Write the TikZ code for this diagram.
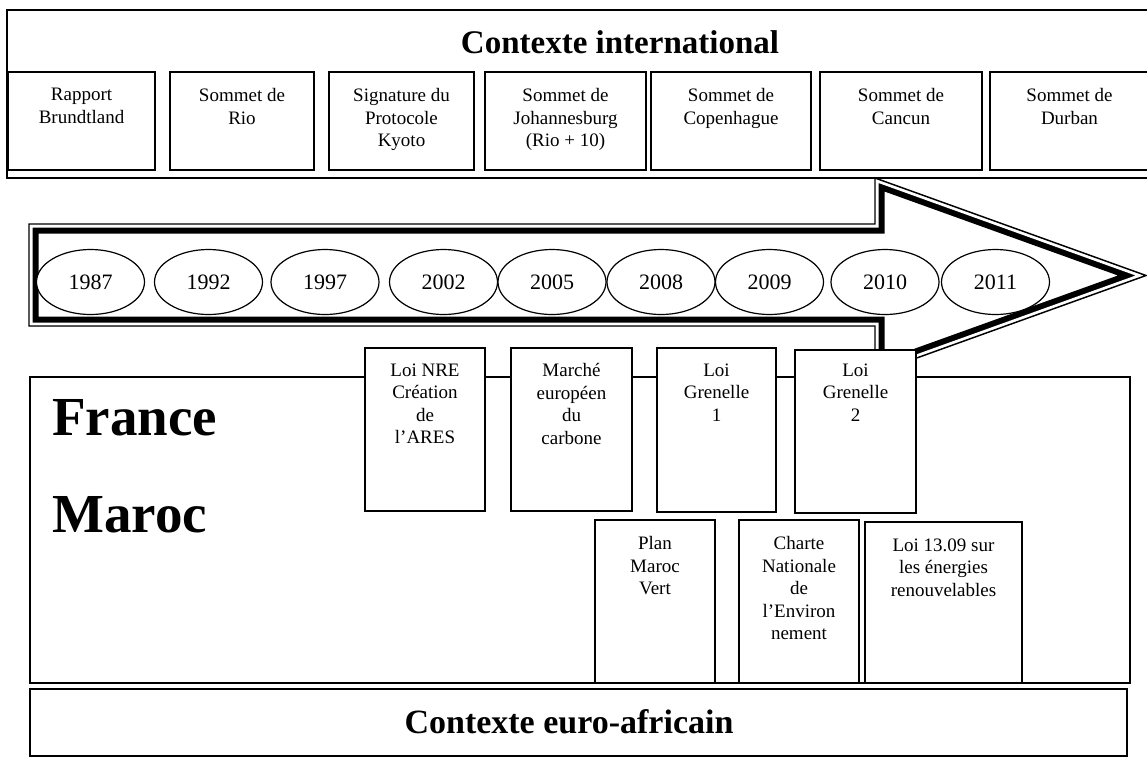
\documentclass[tikz,border=0pt]{standalone}
\usepackage{fontspec}
\setmainfont{Liberation Serif}
\usetikzlibrary{shapes.geometric,fit,calc}
\tikzset{
  evframe/.style={draw, line width=1.1pt, fill=white, inner sep=0pt},
  boxtxt/.style={font=\fontsize{14.25}{16.9}\selectfont, align=center, inner sep=0pt, anchor=north},
  yr/.style={ellipse, draw, line width=0.9pt, fill=white, minimum width=81pt, minimum height=48.75pt, inner sep=0pt, font=\fontsize{16.5}{18}\selectfont},
  bigtitle/.style={font=\fontsize{24.75}{28}\selectfont\bfseries, anchor=base, inner sep=0pt},
  country/.style={font=\fontsize{41.25}{44}\selectfont\bfseries, anchor=base west, inner sep=0pt},
  arrowshape/.style={insert path={(29,224) -- (875,224) -- (875,178) -- (1146,275.5) -- (875,373) -- (875,326) -- (29,326) -- cycle}}
}
\newcommand{\evbox}[7]{%
  \node[evframe, fit={(#2,#3)(#4,#5)}] (#1) {};
  \node[boxtxt] (#1t) at ($(#1.north)+(0,#6)$) {#7};
}
\begin{document}
\begin{tikzpicture}[x=0.75pt,y=-0.75pt]
\useasboundingbox (0,0) rectangle (1147,758);
% top international frame
\node[evframe, fit={(7,10)(1148,178)}] (intl) {};
\node[bigtitle] (intltitle) at (620,53) {Contexte international};
\evbox{brund}{8}{72}{155}{170}{17}{Rapport\\Brundtland}
\evbox{rio}{170}{72}{314}{170}{17}{Sommet de\\Rio}
\evbox{kyoto}{329}{72}{474}{170}{17}{Signature du\\Protocole\\Kyoto}
\evbox{joh}{485}{72}{646}{170}{17}{Sommet de\\Johannesburg\\(Rio + 10)}
\evbox{cop}{651}{72}{811}{170}{17}{Sommet de\\Copenhague}
\evbox{can}{820}{72}{982}{170}{17}{Sommet de\\Cancun}
\evbox{dur}{990}{72}{1149}{170}{17}{Sommet de\\Durban}
% timeline arrow
\begin{scope}
  \clip[arrowshape];
  \fill[white, arrowshape];
  \draw[arrowshape, line width=14.25pt, line join=miter];
  \draw[arrowshape, line width=5.25pt, white, line join=miter];
\end{scope}
\draw[arrowshape, line width=1.1pt, line join=miter];
% years
\node[yr] (y1987) at (90.5,282) {1987};
\node[yr] (y1992) at (208.5,282) {1992};
\node[yr] (y1997) at (325,282) {1997};
\node[yr] (y2002) at (443.5,282) {2002};
\node[yr] (y2005) at (552,282) {2005};
\node[yr] (y2008) at (661,282) {2008};
\node[yr] (y2009) at (769.5,282) {2009};
\node[yr] (y2010) at (885,282) {2010};
\node[yr] (y2011) at (995.5,282) {2011};
% national frame
\node[evframe, fit={(30,377)(1130,683)}] (nat) {};
\node[country] (france) at (52,435) {France};
\node[country] (maroc) at (52,532) {Maroc};
% French measures
\evbox{nre}{365}{348}{485}{511}{16}{Loi NRE\\Création\\de\\l’ARES}
\evbox{carb}{511}{348}{632}{511}{16}{Marché\\européen\\du\\carbone}
\evbox{gr1}{657}{348}{776}{512}{16}{Loi\\Grenelle\\1}
\evbox{gr2}{795}{350}{916}{513}{14}{Loi\\Grenelle\\2}
% Moroccan measures
\evbox{pmv}{595}{520}{715}{683}{17}{Plan\\Maroc\\Vert}
\evbox{cne}{739}{520}{859}{683}{17}{Charte\\Nationale\\de\\l’Environ\\nement}
\evbox{loi}{865}{522}{1022}{683}{17}{Loi 13.09 sur\\les énergies\\renouvelables}
% euro-african frame
\node[evframe, fit={(30,689)(1127,756)}] (euro) {};
\node[bigtitle, font=\fontsize{25.5}{28}\selectfont\bfseries] (eurotitle) at (569,733) {Contexte euro-africain};
\end{tikzpicture}
\end{document}
